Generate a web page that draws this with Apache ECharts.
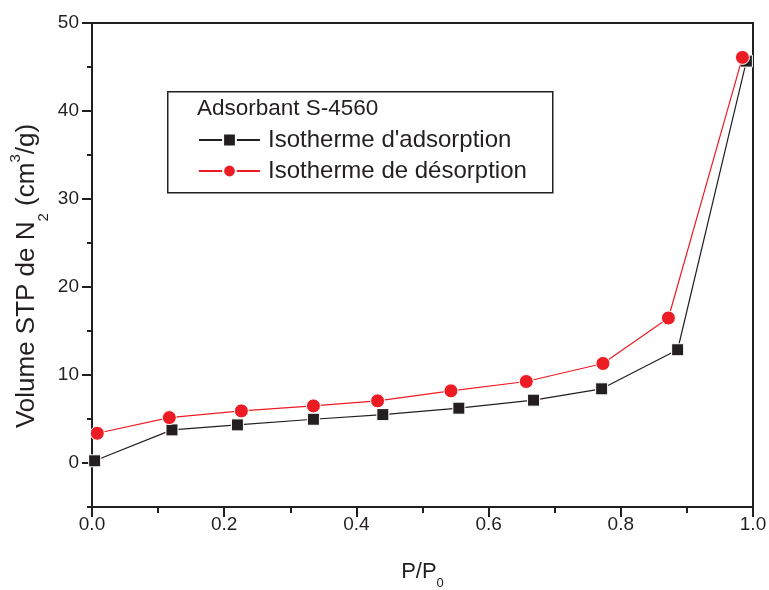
<!DOCTYPE html>
<html>
<head>
<meta charset="utf-8">
<script src="https://cdn.jsdelivr.net/npm/echarts@6/dist/echarts.min.js"></script>
<style>
  html, body { margin: 0; padding: 0; background: #fff; }
  #chart { width: 769px; height: 590px; }
</style>
</head>
<body>
<div id="chart"></div>
<script>
// Relative pressure and adsorbed volume for the two branches of the N2 isotherm
const pAdsorption = [0.004, 0.121, 0.22, 0.335, 0.44, 0.555, 0.668, 0.771, 0.886, 0.990];
const vAdsorption = [0.25, 3.76, 4.33, 4.97, 5.5, 6.23, 7.14, 8.43, 12.87, 45.67];
const pDesorption = [0.008, 0.117, 0.226, 0.335, 0.432, 0.543, 0.657, 0.773, 0.872, 0.984];
const vDesorption = [3.38, 5.16, 5.92, 6.49, 7.06, 8.2, 9.26, 11.31, 16.48, 46.09];

const yMajorTicks = [0, 10, 20, 30, 40, 50];
const yMinorTicks = [-5, 5, 15, 25, 35, 45];

const seriesNames = ["Isotherme d'adsorption", "Isotherme de désorption"];
const legendTitle = 'Adsorbant S-4560';

const ink = '#231f20';
const red = '#ed1c24';
const font = 'Liberation Sans, Arial, sans-serif';

const zip = (xs, ys) => xs.map((x, i) => [x, ys[i]]);

const chart = echarts.init(document.getElementById('chart'), null, { renderer: 'canvas' });

chart.setOption({
  backgroundColor: '#fff',
  animation: false,
  textStyle: { fontFamily: font, color: ink },
  grid: {
    left: 92, right: 16, top: 23, bottom: 83,
    outerBoundsMode: 'none',
    show: true, borderColor: ink, borderWidth: 2, backgroundColor: 'transparent'
  },
  xAxis: {
    type: 'value', min: 0, max: 1, interval: 0.2,
    name: '{a|P/P}{sub|0}',
    nameLocation: 'middle', nameGap: 52, nameMoveOverlap: false,
    nameTextStyle: {
      rich: {
        a: { fontSize: 22, fontFamily: font, color: ink, lineHeight: 26 },
        sub: { fontSize: 13, fontFamily: font, color: ink, verticalAlign: 'bottom', lineHeight: 13, padding: [0, 0, -5, 0] }
      }
    },
    axisLine: { onZero: false, lineStyle: { color: ink, width: 2 } },
    axisTick: { length: 10, lineStyle: { color: ink, width: 2 } },
    minorTick: { show: true, splitNumber: 2, length: 6, lineStyle: { color: ink, width: 2 } },
    splitLine: { show: false },
    axisLabel: { fontSize: 19, color: ink, fontFamily: font, margin: 8, formatter: v => v.toFixed(1) }
  },
  yAxis: [
    {
      type: 'value', min: -5, max: 50, interval: 5,
      name: '{a|Volume STP de N}{sub|2}{a| (cm}{sup|3}{a|/g)}',
      nameLocation: 'middle', nameGap: 50, nameRotate: 90, nameMoveOverlap: false,
      nameTextStyle: {
        padding: [0, 22, 0, 0],
        rich: {
          a: { fontSize: 26, fontFamily: font, color: ink, lineHeight: 30 },
          sub: { fontSize: 15, fontFamily: font, color: ink, verticalAlign: 'bottom', lineHeight: 15, padding: [0, 0, -9, 0] },
          sup: { fontSize: 15, fontFamily: font, color: ink, verticalAlign: 'top', lineHeight: 15, padding: [-4, 0, 0, 0] }
        }
      },
      axisLine: { onZero: false, lineStyle: { color: ink, width: 2 } },
      axisTick: { length: 10, customValues: yMajorTicks, lineStyle: { color: ink, width: 2 } },
      splitLine: { show: false },
      axisLabel: { fontSize: 19, color: ink, fontFamily: font, margin: 13, customValues: yMajorTicks }
    },
    {
      // second copy of the left axis carrying only the short intermediate ticks
      type: 'value', min: -5, max: 50, interval: 5, position: 'left',
      axisLine: { show: false },
      axisTick: { length: 5, customValues: yMinorTicks, lineStyle: { color: ink, width: 2 } },
      axisLabel: { show: false },
      splitLine: { show: false }
    }
  ],
  legend: {
    orient: 'vertical',
    left: 198, top: 127, z: 10, padding: 0,
    itemWidth: 61, itemHeight: 16, itemGap: 5,
    data: seriesNames,
    textStyle: { fontSize: 24, lineHeight: 26, color: ink, fontFamily: font, padding: [0, 0, 0, 3] }
  },
  graphic: [
    {
      type: 'rect', left: 167, top: 91, z: 1,
      shape: { width: 385, height: 101 },
      style: { fill: '#fff', stroke: ink, lineWidth: 1.5 }
    },
    {
      type: 'text', x: 197, y: 109, z: 2,
      style: { text: legendTitle, fontSize: 22.5, fontFamily: font, fill: ink, verticalAlign: 'middle' }
    }
  ],
  series: [
    {
      name: seriesNames[0], type: 'line',
      data: zip(pAdsorption, vAdsorption),
      symbol: 'rect', symbolSize: 12,
      itemStyle: { color: ink, borderColor: '#fff', borderWidth: 1 },
      lineStyle: { color: ink, width: 1.2 },
      z: 3
    },
    {
      name: seriesNames[1], type: 'line',
      data: zip(pDesorption, vDesorption),
      symbol: 'circle', symbolSize: 14,
      itemStyle: { color: red, borderColor: '#fff', borderWidth: 1 },
      lineStyle: { color: red, width: 1.2 },
      z: 4
    }
  ]
});
</script>
</body>
</html>
